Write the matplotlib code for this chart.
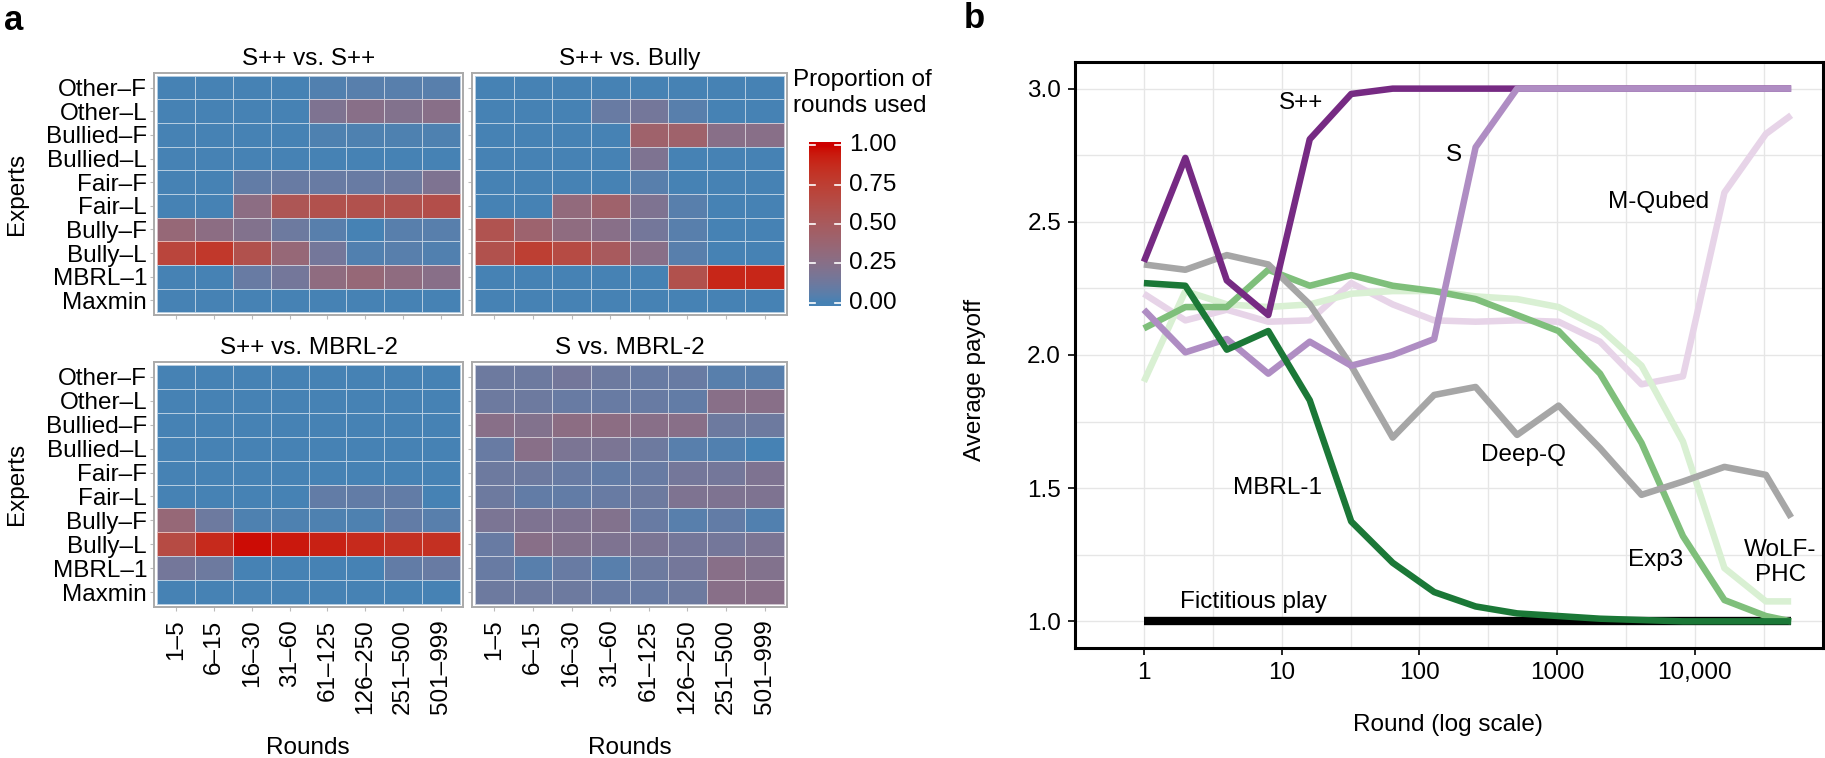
import numpy as np
import matplotlib
matplotlib.use('Agg')
import matplotlib.pyplot as plt
from matplotlib.colors import ListedColormap, Normalize

plt.rcParams['font.family'] = ['Liberation Sans', 'DejaVu Sans']
FS = 17.5

# ---------------- data: panel a ----------------
experts = ['Other–F', 'Other–L', 'Bullied–F', 'Bullied–L', 'Fair–F',
           'Fair–L', 'Bully–F', 'Bully–L', 'MBRL–1', 'Maxmin']
rounds = ['1–5', '6–15', '16–30', '31–60', '61–125', '126–250', '251–500', '501–999']

spp_vs_spp = [
    [0.00, 0.00, 0.00, 0.00, 0.03, 0.05, 0.05, 0.05],
    [0.00, 0.00, 0.00, 0.00, 0.20, 0.25, 0.22, 0.25],
    [0.00, 0.00, 0.00, 0.00, 0.02, 0.02, 0.02, 0.02],
    [0.00, 0.00, 0.00, 0.00, 0.00, 0.00, 0.00, 0.00],
    [0.00, 0.00, 0.08, 0.10, 0.10, 0.10, 0.12, 0.20],
    [0.00, 0.00, 0.28, 0.55, 0.60, 0.60, 0.60, 0.62],
    [0.35, 0.28, 0.22, 0.12, 0.05, 0.00, 0.05, 0.05],
    [0.70, 0.80, 0.60, 0.35, 0.15, 0.03, 0.05, 0.03],
    [0.00, 0.00, 0.10, 0.15, 0.30, 0.35, 0.30, 0.25],
    [0.00, 0.00, 0.00, 0.00, 0.00, 0.00, 0.00, 0.00],
]
spp_vs_bully = [
    [0.00, 0.00, 0.00, 0.00, 0.00, 0.00, 0.00, 0.00],
    [0.00, 0.00, 0.00, 0.10, 0.15, 0.05, 0.00, 0.00],
    [0.00, 0.00, 0.00, 0.00, 0.42, 0.42, 0.25, 0.25],
    [0.00, 0.00, 0.00, 0.00, 0.20, 0.00, 0.00, 0.00],
    [0.00, 0.00, 0.00, 0.00, 0.05, 0.00, 0.00, 0.00],
    [0.00, 0.00, 0.32, 0.42, 0.20, 0.05, 0.00, 0.00],
    [0.58, 0.40, 0.30, 0.25, 0.15, 0.05, 0.00, 0.00],
    [0.60, 0.75, 0.65, 0.50, 0.25, 0.05, 0.00, 0.00],
    [0.00, 0.00, 0.00, 0.00, 0.00, 0.60, 0.90, 0.90],
    [0.00, 0.00, 0.00, 0.00, 0.00, 0.00, 0.00, 0.00],
]
spp_vs_mbrl2 = [
    [0.00, 0.00, 0.00, 0.00, 0.00, 0.00, 0.00, 0.00],
    [0.00, 0.00, 0.00, 0.00, 0.00, 0.00, 0.00, 0.00],
    [0.00, 0.00, 0.00, 0.00, 0.00, 0.00, 0.00, 0.00],
    [0.00, 0.00, 0.00, 0.00, 0.00, 0.00, 0.00, 0.00],
    [0.00, 0.00, 0.00, 0.00, 0.00, 0.00, 0.00, 0.00],
    [0.00, 0.00, 0.00, 0.00, 0.08, 0.08, 0.08, 0.00],
    [0.35, 0.12, 0.02, 0.02, 0.02, 0.02, 0.08, 0.05],
    [0.65, 0.88, 0.98, 0.95, 0.92, 0.88, 0.85, 0.85],
    [0.15, 0.12, 0.00, 0.00, 0.00, 0.00, 0.08, 0.10],
    [0.00, 0.00, 0.00, 0.00, 0.00, 0.00, 0.00, 0.00],
]
s_vs_mbrl2 = [
    [0.12, 0.12, 0.15, 0.12, 0.10, 0.10, 0.05, 0.05],
    [0.12, 0.12, 0.10, 0.10, 0.10, 0.08, 0.25, 0.25],
    [0.25, 0.22, 0.28, 0.28, 0.25, 0.25, 0.12, 0.12],
    [0.10, 0.25, 0.18, 0.18, 0.12, 0.05, 0.03, 0.00],
    [0.12, 0.12, 0.10, 0.08, 0.10, 0.15, 0.15, 0.20],
    [0.12, 0.08, 0.08, 0.10, 0.12, 0.20, 0.20, 0.20],
    [0.18, 0.20, 0.20, 0.22, 0.10, 0.05, 0.08, 0.03],
    [0.10, 0.25, 0.22, 0.20, 0.18, 0.15, 0.15, 0.18],
    [0.10, 0.05, 0.10, 0.05, 0.12, 0.15, 0.25, 0.22],
    [0.12, 0.12, 0.12, 0.10, 0.10, 0.12, 0.25, 0.25],
]

# ---------------- data: panel b ----------------
round_x = [1, 2, 4, 8, 16, 32, 64, 128, 256, 512, 1024, 2048, 4096,
           8192, 16384, 32768, 50000]
spp = [2.35, 2.74, 2.28, 2.15, 2.81, 2.98, 3.0, 3.0, 3.0, 3.0, 3.0, 3.0, 3.0, 3.0, 3.0, 3.0, 3.0]
s_alg = [2.17, 2.01, 2.06, 1.93, 2.05, 1.96, 2.0, 2.06, 2.78, 3.0, 3.0, 3.0, 3.0, 3.0, 3.0, 3.0, 3.0]
mqubed = [2.23, 2.13, 2.17, 2.125, 2.13, 2.27, 2.19, 2.13, 2.125, 2.13, 2.125, 2.05, 1.89, 1.92, 2.61, 2.83, 2.90]
deepq = [2.34, 2.32, 2.375, 2.34, 2.19, 1.96, 1.69, 1.85, 1.88, 1.70, 1.81, 1.65, 1.475, 1.525, 1.58, 1.55, 1.39]
exp3 = [2.10, 2.18, 2.18, 2.32, 2.26, 2.30, 2.26, 2.24, 2.21, 2.15, 2.09, 1.93, 1.67, 1.32, 1.08, 1.02, 1.0]
wolf = [1.90, 2.24, 2.19, 2.18, 2.19, 2.23, 2.24, 2.24, 2.22, 2.21, 2.18, 2.10, 1.96, 1.675, 1.20, 1.075, 1.075]
mbrl1 = [2.27, 2.26, 2.02, 2.09, 1.83, 1.375, 1.22, 1.11, 1.056, 1.03, 1.02, 1.01, 1.005, 1.0, 1.0, 1.0, 1.0]
fict = [1.0, 1.0, 1.0, 1.0, 1.0, 1.0, 1.0, 1.0, 1.0, 1.0, 1.0, 1.0, 1.0, 1.0, 1.0, 1.0, 1.0]

W, H = 1825, 758
fig = plt.figure(figsize=(W / 100, H / 100), dpi=100)


def rect(l, t, r, b):
    return [l / W, 1 - b / H, (r - l) / W, (b - t) / H]


# gradient steelblue -> red in CIELAB (like ggplot)
M = np.array([[0.4124, 0.3576, 0.1805], [0.2126, 0.7152, 0.0722], [0.0193, 0.1192, 0.9505]])
WHITE = np.array([0.95047, 1.0, 1.08883])


def to_lab(c):
    c = np.asarray(c, float)
    lin = np.where(c <= 0.04045, c / 12.92, ((c + 0.055) / 1.055) ** 2.4)
    xyz = lin @ M.T / WHITE
    f = np.where(xyz > 0.008856, np.cbrt(xyz), 7.787 * xyz + 16 / 116)
    return np.stack([116 * f[..., 1] - 16, 500 * (f[..., 0] - f[..., 1]),
                     200 * (f[..., 1] - f[..., 2])], -1)


def from_lab(lab):
    fy = (lab[..., 0] + 16) / 116
    f = np.stack([fy + lab[..., 1] / 500, fy, fy - lab[..., 2] / 200], -1)
    xyz = np.where(f > 0.206893, f ** 3, (f - 16 / 116) / 7.787) * WHITE
    lin = np.clip(xyz @ np.linalg.inv(M).T, 0, 1)
    c = np.where(lin <= 0.0031308, 12.92 * lin, 1.055 * lin ** (1 / 2.4) - 0.055)
    return np.clip(c, 0, 1)


lo = to_lab(np.array([70, 130, 180]) / 255)
hi = to_lab(np.array([205, 0, 0]) / 255)
t = np.linspace(0, 1, 256)[:, None]
cmap = ListedColormap(from_lab(lo * (1 - t) + hi * t))
norm = Normalize(0, 1)

panels = [
    ('S++ vs. S++', spp_vs_spp, (154, 73, 463, 315), True, False),
    ('S++ vs. Bully', spp_vs_bully, (472, 73, 787, 315), False, False),
    ('S++ vs. MBRL-2', spp_vs_mbrl2, (154, 362, 463, 607), True, True),
    ('S vs. MBRL-2', s_vs_mbrl2, (472, 362, 787, 607), False, True),
]
for title, data, box, show_y, show_x in panels:
    ax = fig.add_axes(rect(*box))
    ax.pcolormesh(np.arange(0.5, 9), np.arange(0.5, 11), np.array(data), cmap=cmap, norm=norm,
                  edgecolors=(1, 1, 1, 0.6), linewidth=0.6)
    ax.set_xlim(0.42, 8.58)
    ax.set_ylim(10.62, 0.38)
    for sp in ax.spines.values():
        sp.set_color('#AAAAAA')
        sp.set_linewidth(1.4)
    ax.set_xticks(range(1, 9))
    ax.set_yticks(range(1, 11))
    ax.tick_params(color='#BBBBBB', length=3, width=0.8, labelsize=FS, pad=2)
    ax.set_yticklabels(experts if show_y else [])
    if show_x:
        ax.set_xticklabels(rounds, rotation=90)
        ax.tick_params(axis='x', pad=6)
    else:
        ax.set_xticklabels([])
    ax.set_title(title, fontsize=FS, pad=6)

for yc in (194, 484):
    fig.text(17 / W, 1 - yc / H, 'Experts', rotation=90, fontsize=FS, ha='center', va='center')
for xc in (308, 630):
    fig.text(xc / W, 1 - 748 / H, 'Rounds', fontsize=FS, ha='center', va='center')

# colour bar
cax = fig.add_axes(rect(809, 142, 841, 306))
grad = np.linspace(-0.02, 1.02, 200)[:, None]
cax.imshow(grad, cmap=cmap, norm=norm, aspect='auto', origin='lower', extent=(0, 1, -0.02, 1.02))
cax.set_xlim(0, 1)
cax.set_ylim(-0.02, 1.02)
cax.set_xticks([])
cax.set_yticks([])
for sp in cax.spines.values():
    sp.set_visible(False)
for v in [0, 0.25, 0.5, 0.75, 1.0]:
    cax.plot([0, 0.2], [v, v], color='white', lw=1.2)
    cax.plot([0.8, 1], [v, v], color='white', lw=1.2)
    cax.text(1.25, v, f'{v:.2f}', fontsize=FS, va='center', ha='left', transform=cax.transData)
fig.text(793 / W, 1 - 93 / H, 'Proportion of\nrounds used', fontsize=FS, ha='left',
         va='center', linespacing=1.2)

# ---------------- panel b ----------------
ax = fig.add_axes(rect(1075, 62, 1823, 648))
ax.set_xscale('log')
ax.set_xlim(10 ** -0.242, 10 ** 4.93)
ax.set_ylim(0.9, 3.1)
ax.set_axisbelow(True)
ax.set_xticks([1, 10, 100, 1000, 10000])
ax.set_xticklabels(['1', '10', '100', '1000', '10,000'])
ax.set_xticks([10 ** (k + 0.5) for k in range(-1, 5)], minor=True)
ax.set_yticks([1.0, 1.5, 2.0, 2.5, 3.0])
ax.set_yticklabels(['1.0', '1.5', '2.0', '2.5', '3.0'])
ax.set_yticks([1.25, 1.75, 2.25, 2.75], minor=True)
ax.grid(True, which='both', color='#E6E6E6', lw=1.0)
ax.tick_params(which='minor', length=0)
ax.tick_params(which='major', length=5, width=1.2, labelsize=FS, pad=5)
for sp in ax.spines.values():
    sp.set_linewidth(2.2)

LW = 4.7
kw = dict(solid_capstyle='butt', solid_joinstyle='round')
ax.plot(round_x, fict, color='black', lw=6, **kw)
ax.plot(round_x, mqubed, color='#E7D4E8', lw=LW, **kw)
ax.plot(round_x, wolf, color='#D9F0D3', lw=LW, **kw)
ax.plot(round_x, exp3, color='#7FBF7B', lw=LW, **kw)
ax.plot(round_x, deepq, color='#A6A6A6', lw=LW, **kw)
ax.plot(round_x, spp, color='#762A83', lw=LW, **kw)
ax.plot(round_x, s_alg, color='#AF8DC3', lw=LW, **kw)
ax.plot(round_x, mbrl1, color='#1B7837', lw=LW, **kw)

labels = [('S++', 13.8, 2.947), ('S', 177, 2.752), ('M-Qubed', 5420, 2.575),
          ('MBRL-1', 9.3, 1.50), ('Deep-Q', 565, 1.624), ('Exp3', 5170, 1.229),
          ('WoLF-\nPHC', 41700, 1.22), ('Fictitious play', 6.24, 1.071)]
for txt, x, y in labels:
    ax.text(x, y, txt, fontsize=FS, ha='center', va='center', linespacing=1.2)

fig.text(975 / W, 1 - 380 / H, 'Average payoff', rotation=90, fontsize=FS, ha='center', va='center')
fig.text(1448 / W, 1 - 725 / H, 'Round (log scale)', fontsize=FS, ha='center', va='center')

fig.text(14 / W, 1 - 21 / H, 'a', fontsize=25, fontweight='bold', ha='center', va='center')
fig.text(974 / W, 1 - 18 / H, 'b', fontsize=25, fontweight='bold', ha='center', va='center')

fig.savefig('out.png', dpi=100)
